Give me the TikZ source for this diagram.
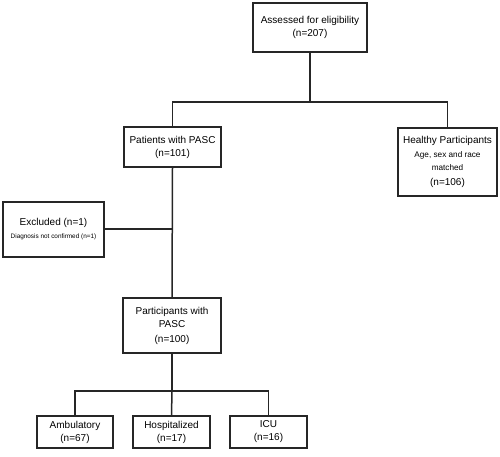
\documentclass[tikz,border=0pt]{standalone}
\usepackage{fontspec}
\setmainfont{Liberation Sans}
\begin{document}
\begin{tikzpicture}[x=1pt,y=-1pt,
  box/.style={draw=black!85, line width=1.5pt, rectangle, inner sep=0pt, align=center, font=\fontsize{10}{13}\selectfont},
  conn/.style={draw=black!85, line width=1.5pt}]
\useasboundingbox (0,0) rectangle (500,457);
\node[box, minimum width=114pt, minimum height=49pt] (assess) at (310,27.5) {Assessed for eligibility\\(n=207)};
\node[box, minimum width=97pt, minimum height=40pt] (pasc) at (172.5,147) {Patients with PASC\\(n=101)};
\node[box, minimum width=99pt, minimum height=68pt] (healthy) at (447.5,162) {Healthy Participants\\[1pt]{\fontsize{8.2}{10}\selectfont Age, sex and race}\\{\fontsize{8.2}{10}\selectfont matched}\\[2pt](n=106)};
\node[box, minimum width=101pt, minimum height=55pt] (excl) at (53.5,229.5) {Excluded (n=1)\\[0pt]{\fontsize{6.4}{8}\selectfont Diagnosis not confirmed (n=1)}};
\node[box, minimum width=98pt, minimum height=55pt] (part) at (172,325.5) {Participants with\\PASC\\[2pt](n=100)};
\node[box, minimum width=76pt, minimum height=32pt] (amb) at (75,432) {Ambulatory\\(n=67)};
\node[box, minimum width=77pt, minimum height=32pt] (hosp) at (171.5,432) {Hospitalized\\(n=17)};
\node[box, minimum width=77pt, minimum height=32pt] (icu) at (268.5,432) {ICU\\(n=16)};
\coordinate (split1) at (310,102);
\coordinate (join1) at (172.5,229);
\coordinate (split2) at (172,391);
\draw[conn] (assess.south) -- (split1);
\draw[conn] (pasc.north) -- (pasc.north |- split1) -- (healthy.north |- split1) -- (healthy.north);
\draw[conn] (pasc.south) -- (part.north);
\draw[conn] (excl.east |- join1) -- (join1);
\draw[conn] (part.south) -- (split2);
\draw[conn] (amb.north) -- (amb.north |- split2) -- (icu.north |- split2) -- (icu.north);
\draw[conn] (split2) -- (hosp.north);
\end{tikzpicture}
\end{document}
